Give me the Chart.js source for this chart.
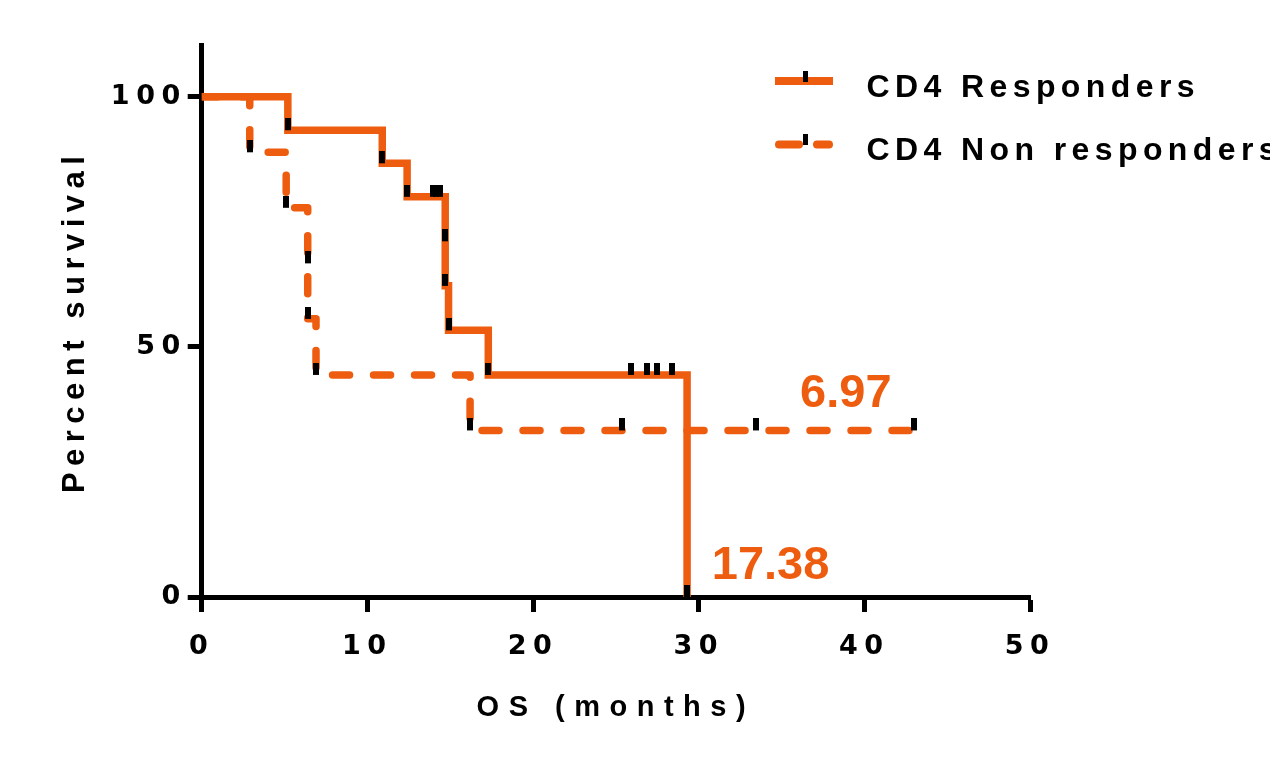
<!DOCTYPE html>
<html>
<head>
<meta charset="utf-8">
<script src="https://cdn.jsdelivr.net/npm/chart.js@4.4.1/dist/chart.umd.min.js"></script>
<style>
  html, body { margin: 0; padding: 0; background: #fff; }
  canvas { display: block; }
</style>
</head>
<body>
<canvas id="chart" width="1270" height="758"></canvas>
<script>
// Kaplan-Meier step vertices (months, percent survival)
const respTimes = [0, 5.2, 10.9, 12.4, 14.7, 14.9, 17.3, 29.3];
const respSurv = [100, 93.3, 86.7, 80, 62.2, 53.3, 44.4, 0];
const nonTimes = [0, 2.9, 5.1, 6.4, 6.9, 16.2, 43.0];
const nonSurv = [100, 88.9, 77.8, 55.6, 44.4, 33.3, 33.3];

// tick marks, one per subject (events and censored)
const respMarkTimes = [5.2, 10.9, 12.4, 13.95, 14.15, 14.4, 14.7, 14.7, 14.9, 17.3, 25.9, 26.9, 27.5, 28.4, 29.3];
const respMarkSurv = [93.3, 86.7, 80, 80, 80, 80, 71.1, 62.2, 53.3, 44.4, 44.4, 44.4, 44.4, 44.4, 0];
const nonMarkTimes = [2.9, 5.1, 6.4, 6.4, 6.9, 16.2, 25.4, 33.45, 43.0];
const nonMarkSurv = [88.9, 77.8, 66.7, 55.6, 44.4, 33.3, 33.3, 33.3, 33.3];

const xTicks = [0, 10, 20, 30, 40, 50];
const yTicks = [0, 50, 100];
const seriesNames = ["CD4 Responders", "CD4 Non responders"];
const medianLabels = ["17.38", "6.97"];

const orange = "#ee5c0f";
const family = "'Liberation Sans', Arial, sans-serif";
const numFamily = "'DejaVu Sans', sans-serif";

// GraphPad style wide letter spacing, picked by font size
const spacing = { 27: 6.5, 29: 9.5, 31: 6.5, 32: 5.4 };
const canvas = document.getElementById("chart");
const ctx = canvas.getContext("2d");
const origFill = ctx.fillText, origMeasure = ctx.measureText;
function applySpacing(c) {
    const m = /(\d+(?:\.\d+)?)px/.exec(c.font);
    c.letterSpacing = ((m && spacing[m[1]]) || 0) + "px";
}
ctx.fillText = function () { applySpacing(this); return origFill.apply(this, arguments); };
ctx.measureText = function () { applySpacing(this); return origMeasure.apply(this, arguments); };

// censor tick: black bar standing on the point
const mark = document.createElement("canvas");
mark.width = 6; mark.height = 24;
const mctx = mark.getContext("2d");
mctx.fillStyle = "#000";
mctx.fillRect(0, 0, 6, 12);

const toPts = (xs, ys) => xs.map((x, i) => ({ x: x, y: ys[i] }));

const extras = {
    id: "extras",
    afterDraw(chart) {
        const c = chart.ctx;
        const sx = chart.scales.x, sy = chart.scales.y;
        c.save();
        // legend
        c.strokeStyle = orange;
        c.lineWidth = 8;
        c.lineCap = "butt";
        c.beginPath(); c.moveTo(775, 81); c.lineTo(833, 81); c.stroke();
        c.lineCap = "round";
        c.beginPath();
        c.moveTo(779, 144.5); c.lineTo(799, 144.5);
        c.moveTo(817, 144.5); c.lineTo(829, 144.5);
        c.stroke();
        c.fillStyle = "#000";
        c.fillRect(803, 71, 5, 11);
        c.fillRect(803, 134, 5, 11);
        c.font = "bold 32px " + family;
        c.textAlign = "left";
        c.textBaseline = "alphabetic";
        c.fillText(seriesNames[0], 866.5, 97);
        c.fillText(seriesNames[1], 866.5, 160);
        // median survival labels
        c.font = "bold 47px " + family;
        c.fillStyle = orange;
        c.fillText(medianLabels[0], sx.getPixelForValue(30.79), sy.getPixelForValue(3.6));
        c.fillText(medianLabels[1], sx.getPixelForValue(36.12), sy.getPixelForValue(37.98));
        c.restore();
    }
};

new Chart(ctx, {
    type: "line",
    data: {
        datasets: [
            { label: "r-marks", data: toPts(respMarkTimes, respMarkSurv), showLine: false,
              pointStyle: mark, pointRadius: 6, order: 0 },
            { label: "n-marks", data: toPts(nonMarkTimes, nonMarkSurv), showLine: false,
              pointStyle: mark, pointRadius: 6, order: 0 },
            { label: seriesNames[0], data: toPts(respTimes, respSurv), stepped: true,
              borderColor: orange, borderWidth: 7.5, pointRadius: 0, fill: false,
              borderCapStyle: "butt", borderJoinStyle: "miter", order: 1 },
            { label: seriesNames[1], data: toPts(nonTimes, nonSurv), stepped: true,
              borderColor: orange, borderWidth: 7.5, pointRadius: 0, fill: false,
              borderDash: [17, 24], borderDashOffset: 1,
              borderCapStyle: "round", borderJoinStyle: "round", order: 2 }
        ]
    },
    options: {
        responsive: false,
        animation: false,
        devicePixelRatio: 1,
        layout: { padding: { top: 45.7, right: 240, bottom: 0, left: 0 } },
        plugins: { legend: { display: false }, tooltip: { enabled: false } },
        scales: {
            x: {
                type: "linear", min: 0, max: 50,
                afterBuildTicks: s => { s.ticks = xTicks.map(v => ({ value: v })); },
                afterFit: s => { s.height = 161; },
                grid: { drawOnChartArea: false, drawTicks: true, tickLength: 15, tickWidth: 5, tickColor: "#000" },
                border: { display: true, width: 5, color: "#000" },
                ticks: { color: "#000", font: { family: numFamily, size: 27, weight: "bold" },
                         padding: 19, maxRotation: 0, autoSkip: false },
                title: { display: true, text: "OS (months)", color: "#000",
                         font: { family: family, size: 29, weight: "bold" },
                         padding: { top: 0, bottom: 33 } }
            },
            y: {
                type: "linear", min: 0, max: 110.2,
                afterBuildTicks: s => { s.ticks = yTicks.map(v => ({ value: v })); },
                afterFit: s => { s.width = 201.7; },
                grid: { drawOnChartArea: false, drawTicks: true, tickLength: 14, tickWidth: 5, tickColor: "#000" },
                border: { display: true, width: 5, color: "#000" },
                ticks: { color: "#000", font: { family: numFamily, size: 27, weight: "bold" }, padding: 1 },
                title: { display: true, text: "Percent survival", color: "#000",
                         font: { family: family, size: 31, weight: "bold" },
                         padding: { top: 57, bottom: 0 } }
            }
        }
    },
    plugins: [extras]
});
</script>
</body>
</html>
